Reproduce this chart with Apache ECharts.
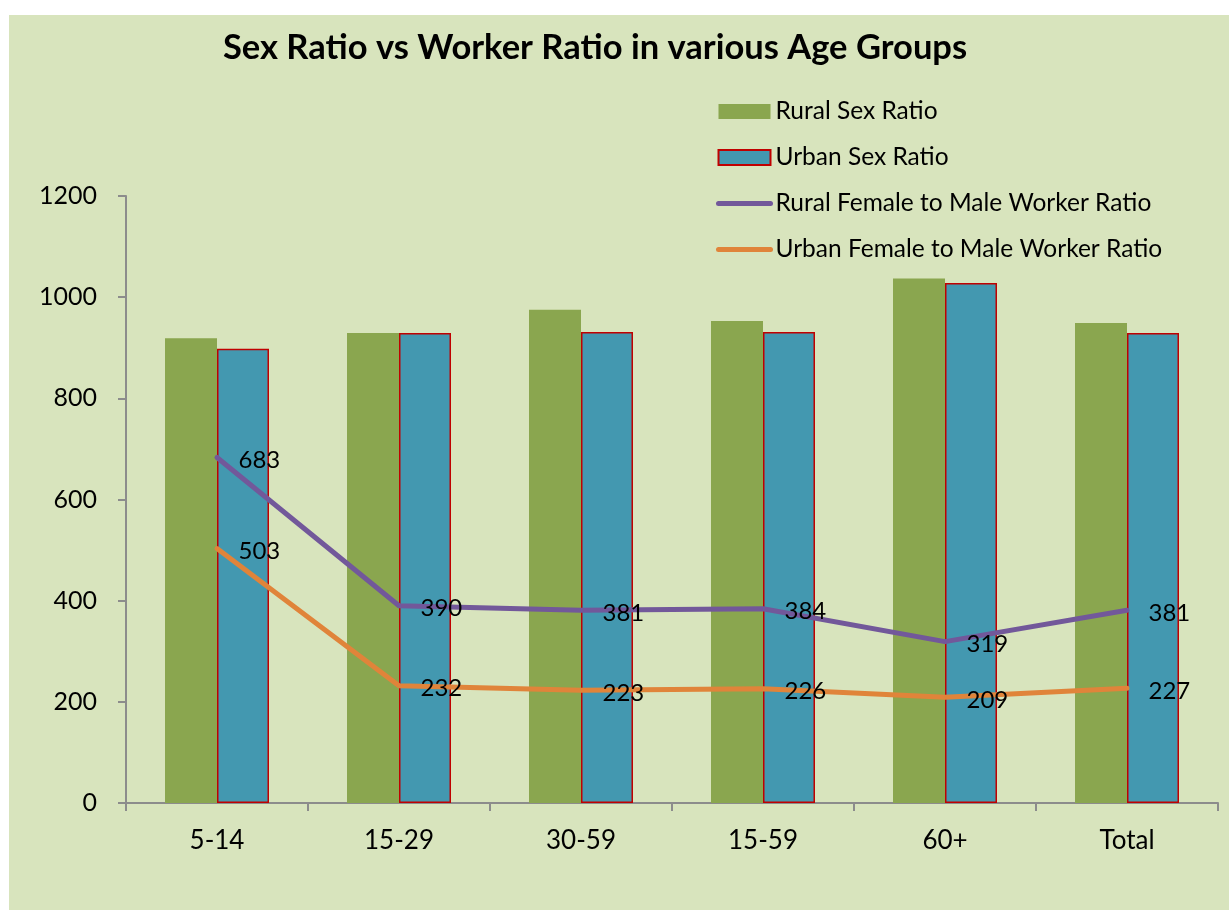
<!DOCTYPE html>
<html>
<head>
<meta charset="utf-8">
<script src="https://cdn.jsdelivr.net/npm/echarts@6/dist/echarts.min.js"></script>
<style>
  html, body { margin: 0; padding: 0; background: #ffffff; }
  #bg { position: absolute; left: 9px; top: 15px; width: 1220px; height: 895px; background: #D8E4BD; }
  #chart { position: absolute; left: 0; top: 0; width: 1229px; height: 910px; }
</style>
</head>
<body>
<div id="bg"></div>
<div id="chart"></div>
<script>
const categories = ['5-14', '15-29', '30-59', '15-59', '60+', 'Total'];
const ruralSexRatio = [919, 929, 975, 953, 1037, 949];
const urbanSexRatio = [898, 929, 931, 931, 1028, 929];
const ruralWorkerRatio = [683, 390, 381, 384, 319, 381];
const urbanWorkerRatio = [503, 232, 223, 226, 209, 227];
const seriesNames = ['Rural Sex Ratio', 'Urban Sex Ratio', 'Rural Female to Male Worker Ratio', 'Urban Female to Male Worker Ratio'];
const titleText = 'Sex Ratio vs Worker Ratio in various Age Groups';

const FONT = 'Lato';
const chart = echarts.init(document.getElementById('chart'), null, { renderer: 'canvas' });

const lineLabel = {
  show: true,
  position: 'right',
  distance: 21,
  offset: [0, 3],
  color: '#000000',
  fontFamily: FONT,
  fontSize: 24
};

chart.setOption({
  backgroundColor: 'transparent',
  animation: false,
  textStyle: { fontFamily: FONT },
  title: {
    text: titleText,
    left: 590,
    top: 25,
    textAlign: 'center',
    textStyle: { fontFamily: FONT, fontWeight: 'bold', fontSize: 34.5, color: '#000000' }
  },
  legend: {
    orient: 'vertical',
    left: 716,
    top: 99,
    padding: 0,
    itemWidth: 52,
    itemHeight: 15,
    itemGap: 21,
    textStyle: { fontFamily: FONT, fontSize: 24.5, color: '#000000', lineHeight: 24 },
    data: [
      { name: seriesNames[0], icon: 'rect' },
      { name: seriesNames[1], icon: 'rect' },
      { name: seriesNames[2], lineStyle: { width: 5, cap: 'round' } },
      { name: seriesNames[3], lineStyle: { width: 5, cap: 'round' } }
    ]
  },
  grid: { left: 126, right: 11, top: 196, bottom: 107, containLabel: false },
  xAxis: {
    type: 'category',
    data: categories,
    boundaryGap: true,
    axisLine: { lineStyle: { color: '#8C8C8C', width: 2 } },
    axisTick: { show: true, length: 8, lineStyle: { color: '#8C8C8C', width: 2 } },
    axisLabel: { fontFamily: FONT, fontSize: 26, color: '#000000', margin: 25 }
  },
  yAxis: {
    type: 'value',
    min: 0,
    max: 1200,
    interval: 200,
    splitLine: { show: false },
    axisLine: { show: true, lineStyle: { color: '#8C8C8C', width: 2 } },
    axisTick: { show: true, length: 8, lineStyle: { color: '#8C8C8C', width: 2 } },
    axisLabel: { fontFamily: FONT, fontSize: 25, color: '#000000', margin: 29, formatter: function (v) { return String(v); } }
  },
  series: [
    {
      name: seriesNames[0],
      type: 'bar',
      data: ruralSexRatio,
      barWidth: 52,
      barGap: '0%',
      itemStyle: { color: '#8AA64F' }
    },
    {
      name: seriesNames[1],
      type: 'bar',
      data: urbanSexRatio,
      barWidth: 52,
      barGap: '0%',
      itemStyle: { color: '#4398B0', borderColor: '#C00000', borderWidth: 1.5 }
    },
    {
      name: seriesNames[2],
      type: 'line',
      data: ruralWorkerRatio,
      symbol: 'circle',
      symbolSize: 1,
      itemStyle: { color: 'rgba(0,0,0,0)' },
      lineStyle: { color: '#72589A', width: 5, cap: 'round', join: 'round' },
      label: lineLabel,
      z: 5
    },
    {
      name: seriesNames[3],
      type: 'line',
      data: urbanWorkerRatio,
      symbol: 'circle',
      symbolSize: 1,
      itemStyle: { color: 'rgba(0,0,0,0)' },
      lineStyle: { color: '#E0843A', width: 5, cap: 'round', join: 'round' },
      label: lineLabel,
      z: 5
    }
  ]
});
</script>
</body>
</html>
